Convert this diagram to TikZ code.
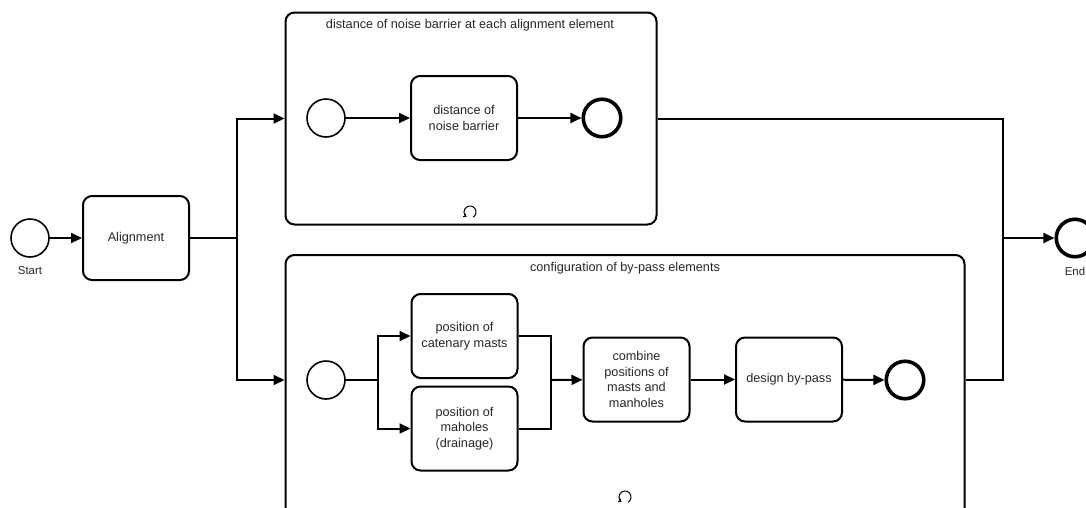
\documentclass[tikz,border=0pt]{standalone}
\usepackage{fontspec}
\setmainfont{Liberation Sans}
\usetikzlibrary{arrows.meta}
\begin{document}
\begin{tikzpicture}[x=1pt,y=-1pt,
  txt/.style={font=\fontsize{12.7}{15.5}\selectfont, text=black!85},
  smalltxt/.style={font=\fontsize{11.4}{13}\selectfont, text=black!85},
  task/.style={draw, line width=2pt, rounded corners=9pt, minimum width=106pt, minimum height=84pt, align=center, inner sep=0pt, txt},
  container/.style={draw, line width=2pt, rounded corners=9pt, inner sep=0pt},
  startev/.style={circle, draw, line width=1.6pt, minimum size=38pt, inner sep=0pt},
  endev/.style={circle, draw, line width=3.6pt, minimum size=37.5pt, inner sep=0pt},
  flow/.style={line width=2pt, -{Triangle[length=11pt,width=10pt]}},
  plain/.style={line width=2pt},
  loopmark/.style={line width=1pt, -{Straight Barb[length=2.2pt,width=3.6pt]}}
]
\useasboundingbox (0,0) rectangle (1086,507);
\clip (0,0) rectangle (1086,507);

% containers
\node[container, minimum width=371pt, minimum height=212pt] (topc) at (471,118.5) {};
\node[container, minimum width=679pt, minimum height=266pt] (botc) at (625,388) {};
\node[txt] (toptitle) at (470,25) {distance of noise barrier at each alignment element};
\node[txt] (bottitle) at (625,268) {configuration of by-pass elements};

% main flow
\node[startev] (start) at (30,238) {};
\node[smalltxt] (startlbl) at (30,271) {Start};
\node[task] (align) at (136,238) {Alignment};
\node[endev] (endev) at (1075,238) {};
\node[smalltxt] (endlbl) at (1075,271) {End};

% top sub-process
\node[startev] (ts) at (326,118) {};
\node[task] (tt) at (464,118) {distance of\\noise barrier};
\node[endev] (te) at (602,118) {};

% bottom sub-process
\node[startev] (bs) at (326,380) {};
\node[task] (b1) at (464.5,336) {position of\\catenary masts};
\node[task] (b2) at (464.5,428.5) {position of\\maholes\\(drainage)};
\node[task] (b3) at (636.5,379.5) {combine\\positions of\\masts and\\manholes};
\node[task] (b4) at (789,379.5) {design by-pass};
\node[endev] (be) at (905,380) {};

% junctions
\coordinate (j1) at (237,238);
\coordinate (j2) at (1003,238);
\coordinate (j3) at (378,380);
\coordinate (j4) at (551,380);

% connectors
\draw[flow] (start) -- (align);
\draw[plain] (align.east) -- (j1);
\draw[flow] (j1) |- (topc.west);
\draw[flow] (j1) |- (botc.west |- bs.center);
\draw[plain] (topc.east) -| (j2);
\draw[plain] (botc.east |- be.center) -| (j2);
\draw[flow] (j2) -- (endev);

\draw[flow] (ts) -- (tt);
\draw[flow] (tt) -- (te);

\draw[plain] (bs) -- (j3);
\draw[flow] (j3) |- (b1.west);
\draw[flow] (j3) |- (b2.west);
\draw[plain] (b1.east) -| (j4);
\draw[plain] (b2.east) -| (j4);
\draw[flow] (j4) -- (b3);
\draw[flow] (b3) -- (b4);
\draw[flow] (b4) -- (be);

% loop markers
\coordinate (lp1) at (470,212);
\coordinate (lp2) at (625,497);
\draw[loopmark] ([shift={(60:6)}]lp1) arc (60:-235:6);
\draw[loopmark] ([shift={(60:6)}]lp2) arc (60:-235:6);
\end{tikzpicture}
\end{document}
